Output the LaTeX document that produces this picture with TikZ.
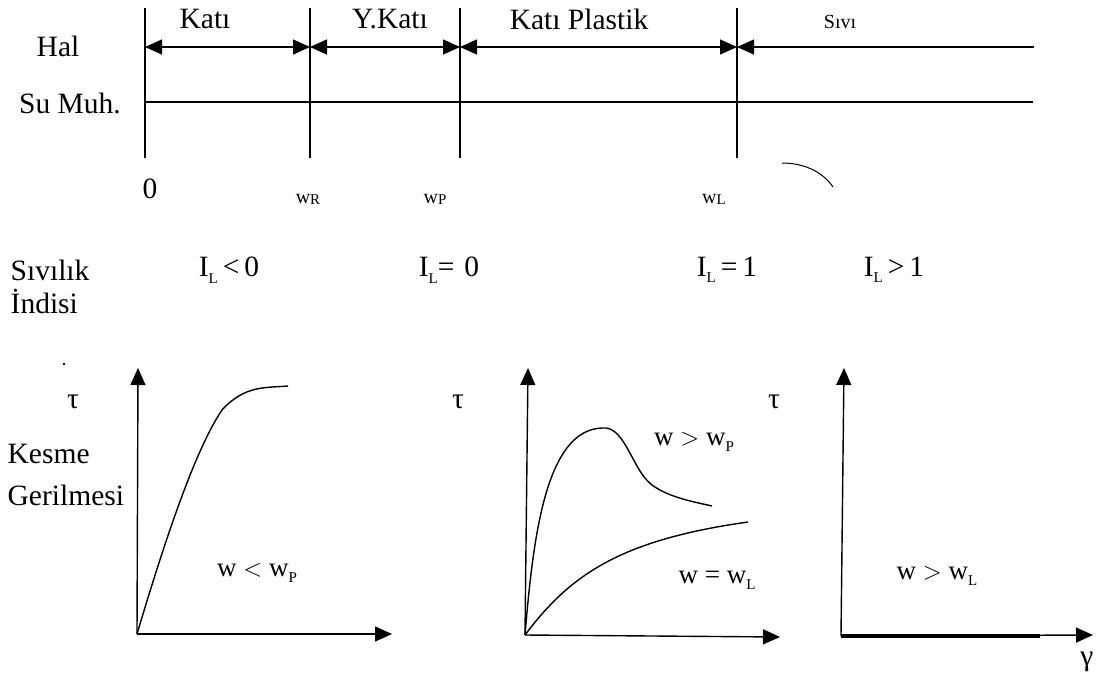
\documentclass[tikz,border=0pt]{standalone}
\usepackage{fontspec}
\setmainfont{Liberation Serif}
\usetikzlibrary{arrows.meta}
\newcommand\mysub[1]{\raisebox{-0.22em}{\fontsize{15}{15}\selectfont #1}}
\newcommand\tsub[1]{\raisebox{-0.05em}{\fontsize{15}{15}\selectfont #1}}
\begin{document}
\begin{tikzpicture}[x=1pt,y=-1pt, line width=1.4pt,
  lbl/.style={font=\fontsize{29.5}{33}\selectfont, inner sep=0pt},
  sml/.style={font=\fontsize{27}{30}\selectfont, inner sep=0pt},
  tny/.style={font=\fontsize{20}{24}\selectfont, inner sep=0pt},
  tip/.style={-{Triangle[length=17pt,width=15pt]}},
  both/.style={{Triangle[length=17pt,width=15pt]}-{Triangle[length=17pt,width=15pt]}}]
\useasboundingbox (0,0) rectangle (1104,686);
% top scale
\foreach \n/\x in {0/145,1/310,2/460,3/737}{
  \coordinate (t\n) at (\x,8);
  \coordinate (b\n) at (\x,158);
  \coordinate (h\n) at (\x,47);
  \draw (t\n) -- (b\n);
}
\coordinate (h4) at (1034,47);
\coordinate (s0) at (145,102);
\coordinate (s1) at (1033,102);
\draw[both] (h0) -- (h1);
\draw[both] (h1) -- (h2);
\draw[both] (h2) -- (h3);
\draw[tip] (h4) -- (h3);
\draw (s0) -- (s1);
% stray marks
\coordinate (arcA) at (782,163);
\coordinate (arcB) at (833,187);
\draw[line width=1pt] (arcA) .. controls (808,163) and (825,175) .. (arcB);
\coordinate (dot) at (64,364);
\fill (dot) circle (1.3);
% labels top
\node[lbl] (hal) at (58,46) {Hal};
\node[lbl] (sumuh) at (70,103) {Su Muh.};
\node[lbl] (kati) at (205,19) {Katı};
\node[lbl] (ykati) at (390,19) {Y.Katı};
\node[lbl] (kplast) at (579,19) {Katı Plastik};
\node[tny] (sivi) at (840,22) {Sıvı};
\node[lbl] (zero) at (150,189) {0};
\node[tny] (wr) at (308,199) {w\tsub{R}};
\node[tny] (wp) at (435,199) {w\tsub{P}};
\node[tny] (wl) at (714,199) {w\tsub{L}};
\node[lbl,anchor=west] (sivilik) at (10,270) {Sıvılık};
\node[lbl,anchor=west] (indisi) at (10,301) {İndisi};
\node[lbl] (il0) at (229,270) {I\mysub{L}\,<\,0};
\node[lbl] (ile0) at (449,270) {I\mysub{L}=\,\,0};
\node[lbl] (il1) at (727,270) {I\mysub{L}\,=\,1};
\node[lbl] (ilg1) at (894,270) {I\mysub{L}\,>\,1};
% plot 1
\coordinate (o1) at (137,634);
\coordinate (y1) at (138,368);
\coordinate (x1) at (392,634);
\draw[tip] (o1) -- (y1);
\draw[tip] (o1) -- (x1);
\coordinate (c1a) at (222,410);
\coordinate (c1b) at (288,386);
\draw (o1) .. controls (165,540) and (195,450) .. (c1a) .. controls (245,385) and (265,388) .. (c1b);
\node[lbl] (tau1) at (73,402) {τ};
\node[lbl,anchor=west] (kesme) at (7,454) {Kesme};
\node[lbl,anchor=west] (geril) at (7,495) {Gerilmesi};
\node[sml] (wlp) at (257,573) {w $<$ w\mysub{P}};
% plot 2
\coordinate (o2) at (525,635);
\coordinate (y2) at (528,368);
\coordinate (x2) at (780,637);
\draw[tip] (o2) -- (y2);
\draw[tip] (o2) -- (x2);
\coordinate (pk) at (602,428);
\coordinate (dn) at (652,485);
\coordinate (e1) at (712,506);
\draw (o2) .. controls (533,540) and (545,430) .. (pk) .. controls (625,425) and (632,470) .. (dn) .. controls (670,498) and (695,502) .. (e1);
\coordinate (e2) at (748,522);
\draw (o2) .. controls (570,575) and (620,540) .. (e2);
\node[lbl] (tau2) at (458,402) {τ};
\node[sml] (wgp) at (694,442) {w $>$ w\mysub{P}};
\node[sml] (wel) at (717,580) {w = w\mysub{L}};
% plot 3
\coordinate (o3) at (841,636);
\coordinate (y3) at (844,368);
\coordinate (x3) at (1093,635);
\coordinate (th) at (1040,636);
\draw[tip] (o3) -- (y3);
\draw[tip] (o3) -- (x3);
\draw[line width=4pt] (o3) -- (th);
\node[lbl] (tau3) at (774,402) {τ};
\node[sml] (wgl) at (937,576) {w $>$ w\mysub{L}};
\node[lbl] (gam) at (1087,662) {γ};
\end{tikzpicture}
\end{document}
